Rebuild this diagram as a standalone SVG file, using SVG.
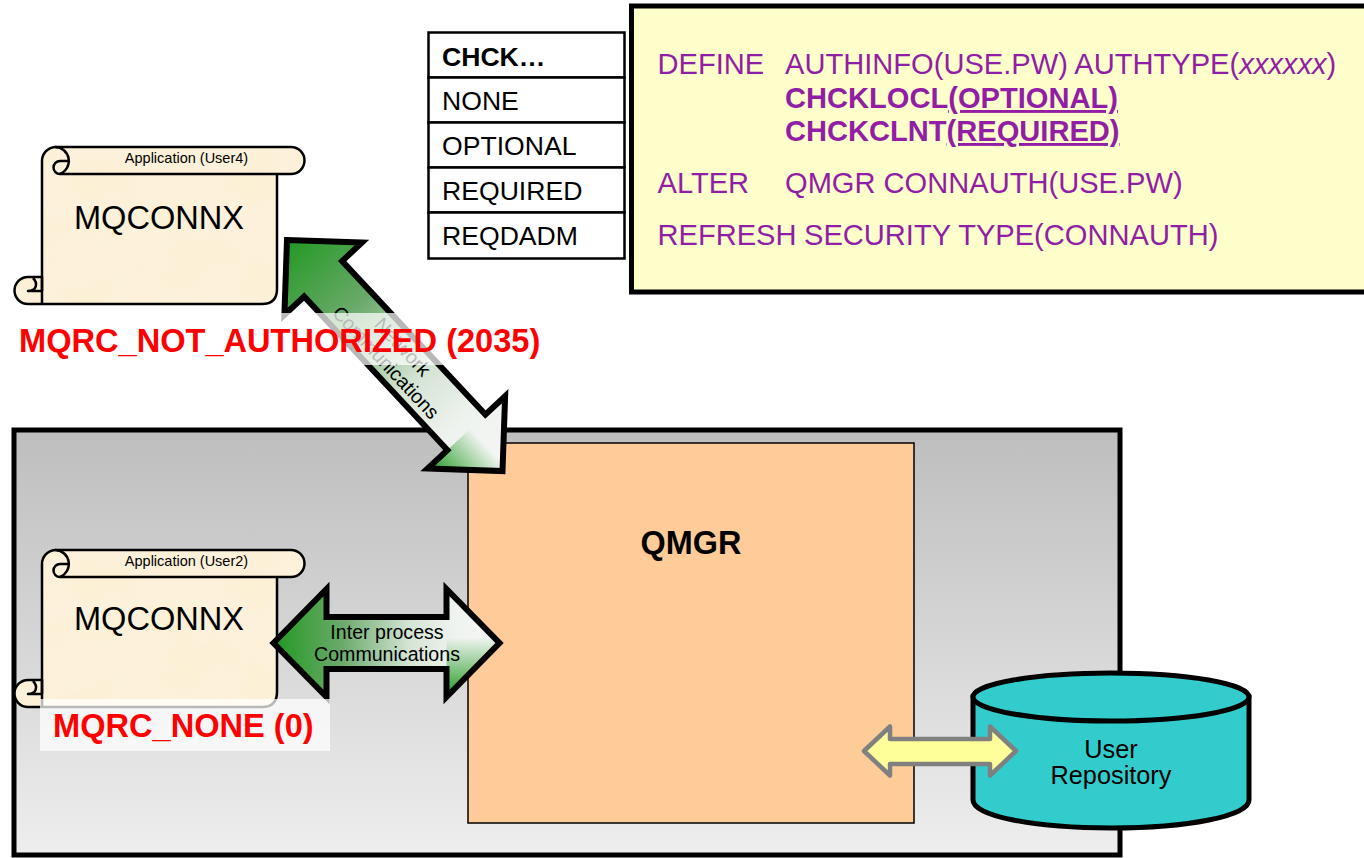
<svg xmlns="http://www.w3.org/2000/svg" width="1364" height="858" viewBox="0 0 1364 858">
<style>
text{font-family:"Liberation Sans",Arial,sans-serif;fill:#000}
.p{fill:#921ea6;font-size:29.1px}
.pb{fill:#921ea6;font-size:29.1px;font-weight:bold}
.t{font-size:26.6px}
.red{fill:#ff0000;font-size:32.6px;font-weight:bold}
.sf{fill:#fdf1dc;filter:url(#mott)}
.ss{fill:none;stroke:#000;stroke-width:2.5;stroke-linejoin:round}
.arr{stroke:#000;stroke-width:6;fill:none;stroke-miterlimit:8}
.c{font-size:19.6px;text-anchor:middle}
.app{font-size:14.5px;text-anchor:middle}
.mq{font-size:32.6px;text-anchor:middle}
.rep{font-size:25.300px;text-anchor:middle}
</style>
<defs>
<filter id="mott" x="0" y="0" width="1" height="1"><feTurbulence type="fractalNoise" baseFrequency=".025" numOctaves="3" seed="4" result="n"/><feColorMatrix in="n" type="matrix" values="0 0 0 0 .96 0 0 0 0 .88 0 0 0 0 .62 1.200 0 0 0 -.45" result="c"/><feComposite in="c" in2="SourceAlpha" operator="in" result="m"/><feMerge><feMergeNode in="SourceGraphic"/><feMergeNode in="m"/></feMerge></filter>
<linearGradient id="bg" x1="0" y1="0" x2="0" y2="1"><stop offset="0" stop-color="#bebebe"/><stop offset="1" stop-color="#eeeeee"/></linearGradient>
<linearGradient id="g1" x1="0" y1="0" x2="1" y2="0"><stop offset="0" stop-color="#229922"/><stop offset="0.3" stop-color="#6aa96a"/><stop offset="0.6" stop-color="#d4e4d4"/><stop offset="0.8" stop-color="#eff3ef"/><stop offset="1" stop-color="#f4f6f4"/></linearGradient>
<linearGradient id="g2" x1="0" y1="0" x2="0" y2="1"><stop offset="0" stop-color="#229922" stop-opacity="0"/><stop offset="0.45" stop-color="#229922" stop-opacity="0"/><stop offset="1" stop-color="#229922"/></linearGradient>
<polygon id="big" points="0,0 53,-54 53,-26 173,-26 173,-54 226,0 173,54 173,26 53,26 53,54"/>
<polygon id="dia" points="0,0 53,-53 53,-26 263,-26 263,-53 316,0 263,53 263,26 53,26 53,53"/>
<g id="scroll">
<path class="sf" d="M42 160A14 14 0 0 1 55 147H291A13.500 13.500 0 0 1 291 174H277V289Q277 304 262 304H28A13.500 13.500 0 0 1 28 277H42Z"/>
<path class="ss" d="M42 291V161A14 14 0 0 1 55 147H291A13.500 13.500 0 0 1 291 174H60A6.500 6.500 0 0 1 60 161H70"/>
<path class="ss" d="M55 147A14 14 0 0 1 60 174"/>
<path class="ss" d="M277 174V289Q277 304 262 304H28A13.500 13.500 0 0 1 28 277H42V304"/>
<path class="ss" d="M33 278C38 283 37 291 28 291H42" stroke-width="2"/>
</g>
</defs>
<g id="boundary"><rect x="14" y="430" width="1106" height="425" fill="url(#bg)" stroke="#000" stroke-width="5"/></g>
<g id="qmgr"><rect x="468" y="443" width="446" height="380" fill="#ffcc99" stroke="#000" stroke-width="1.500"/><text x="691" y="554" font-size="32.4" font-weight="bold" text-anchor="middle">QMGR</text></g>
<g id="app-user4"><use href="#scroll"/><text class="app" x="186.500" y="163">Application (User4)</text><text class="mq" x="159" y="229">MQCONNX</text></g>
<g id="app-user2"><use href="#scroll" y="403"/><text class="app" x="186.500" y="566">Application (User2)</text><text class="mq" x="159" y="630">MQCONNX</text></g>
<g id="repo">
<path d="M973 697V800C973 816 1034 828 1111 828S1249 816 1249 800V697Z" fill="#33cccc" stroke="#000" stroke-width="5"/>
<ellipse cx="1111" cy="697" rx="138" ry="24" fill="#33cccc" stroke="#000" stroke-width="5"/>
<text class="rep" x="1111" y="758">User</text><text class="rep" x="1111" y="784">Repository</text>
</g>
<g id="connectors">
<g id="network-arrow" transform="translate(287 240) rotate(47)">
<use href="#dia" fill="url(#g1)"/><polygon points="263,-53 316,0 263,53" fill="url(#g2)"/><use href="#dia" class="arr"/>
<text class="c" x="157" y="-5">Network</text><text class="c" x="157" y="18">Communications</text>
</g>
<g id="ipc-arrow" transform="translate(273.500 643)">
<use href="#big" fill="url(#g1)"/><polygon points="173,-54 226,0 173,54" fill="url(#g2)"/><use href="#big" class="arr"/>
<text class="c" x="113.500" y="-4">Inter process</text><text class="c" x="113.500" y="18">Communications</text>
</g>
<polygon id="repo-arrow" points="864,751 890,726.500 890,739 990,739 990,726.500 1016,751 990,775.500 990,764 890,764 890,775.500" fill="#ffff99" stroke="#808080" stroke-width="4.500" stroke-linejoin="round"/>
</g>
<g id="label-2035"><rect x="14" y="313" width="532" height="52" fill="#fff" fill-opacity=".72"/><text class="red" x="19" y="352">MQRC_NOT_AUTHORIZED (2035)</text></g>
<g id="label-0"><rect x="40" y="699" width="290" height="52" fill="#fff" fill-opacity=".72"/><text class="red" x="53" y="737">MQRC_NONE (0)</text></g>
<g id="chck-table">
<g fill="#fff" stroke="#000" stroke-width="2.500"><rect x="428.500" y="32.500" width="196" height="45"/><rect x="428.500" y="77.500" width="196" height="45"/><rect x="428.500" y="122.500" width="196" height="45"/><rect x="428.500" y="167.500" width="196" height="45"/><rect x="428.500" y="212.500" width="196" height="46"/></g>
<text class="t" x="442" y="66" font-weight="bold">CHCK…</text><text class="t" x="442" y="110">NONE</text><text class="t" x="442" y="155">OPTIONAL</text><text class="t" x="442" y="200">REQUIRED</text><text class="t" x="442" y="245">REQDADM</text>
</g>
<g id="commands">
<rect x="631.500" y="6" width="740" height="286" fill="#ffffcc" stroke="#000" stroke-width="5"/>
<text class="p" x="657.500" y="74">DEFINE</text><text class="p" x="785" y="74">AUTHINFO(USE.PW) AUTHTYPE(<tspan font-style="italic">xxxxxx</tspan>)</text>
<text class="pb" x="785" y="108">CHCKLOCL<tspan text-decoration="underline">(OPTIONAL)</tspan></text>
<text class="pb" x="785" y="141">CHCKCLNT<tspan text-decoration="underline">(REQUIRED)</tspan></text>
<text class="p" x="657.500" y="193">ALTER</text><text class="p" x="785" y="193">QMGR CONNAUTH(USE.PW)</text>
<text class="p" x="657.500" y="245">REFRESH</text><text class="p" x="804" y="245">SECURITY TYPE(CONNAUTH)</text>
</g>
</svg>
